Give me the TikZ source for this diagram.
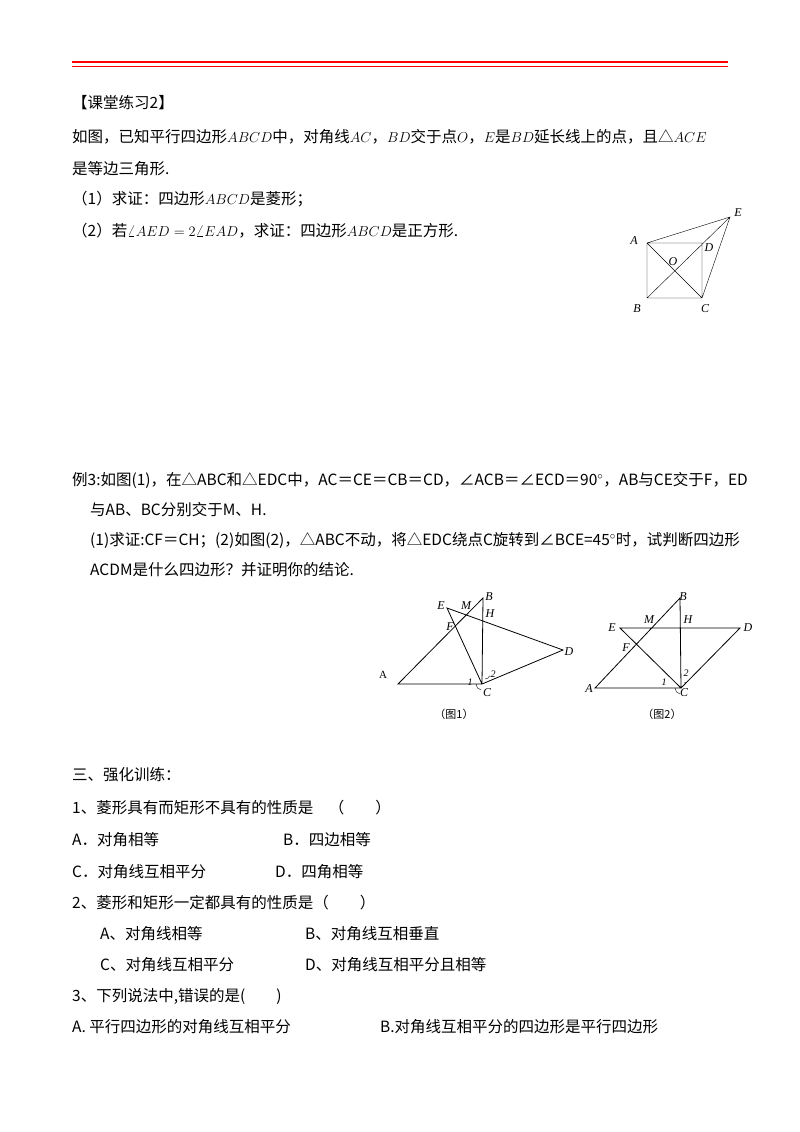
\documentclass[tikz,border=0pt]{standalone}
\usepackage{fontspec}
\setmainfont{Noto Sans CJK SC}
\newfontfamily\lat{Liberation Serif}
\begin{document}
\begin{tikzpicture}[x=1pt,y=-1pt,
 t/.style={anchor=base west,inner sep=0pt,font=\fontsize{15.5}{17}\selectfont},
 lb/.style={inner sep=0pt,font=\fontsize{12}{13}\selectfont\lat\itshape},
 sm/.style={inner sep=0pt,font=\fontsize{10}{11}\selectfont\lat\itshape},
 captxt/.style={inner sep=0pt,font=\fontsize{11}{12}\selectfont},
 ln/.style={line width=0.8pt}]
\useasboundingbox (0,0) rectangle (800,1132);
\draw[red,line width=2pt] (72,62) -- (728,62);
\draw[red,line width=0.7pt] (72,66.5) -- (728,66.5);
\node[t] (t1) at (72,108) {【课堂练习2】};
\node[t] (t2) at (72,142) {如图，已知平行四边形$ABCD$中，对角线$AC$，$BD$交于点$O$，$E$是$BD$延长线上的点，且△$ACE$};
\node[t] (t3) at (72,174) {是等边三角形.};
\node[t] (t4) at (72,204) {（1）求证：四边形$ABCD$是菱形；};
\node[t] (t5) at (72,236) {（2）若$\angle AED=2\angle EAD$，求证：四边形$ABCD$是正方形.};
% figure 1
\coordinate (A) at (647,243); \coordinate (B) at (647,298);
\coordinate (C) at (702,298); \coordinate (D) at (702,243); \coordinate (E) at (730,217);
\draw (A)--(B)--(C)--(D)--cycle (A)--(C) (B)--(E) (A)--(E)--(C);
\node[lb] (lA) at (634,241) {A}; \node[lb] (lB) at (637,309) {B};
\node[lb] (lC) at (705,309) {C}; \node[lb] (lD) at (709,248) {D};
\node[lb] (lE) at (738,213) {E}; \node[lb] (lO) at (673,262) {O};
% example 3
\node[t] (e1) at (72,485) {例3:如图(1)，在△ABC和△EDC中，AC＝CE＝CB＝CD，∠ACB＝∠ECD＝90$^{\circ}$，AB与CE交于F，ED};
\node[t] (e2) at (90,515) {与AB、BC分别交于M、H.};
\node[t] (e3) at (90,545) {(1)求证:CF＝CH；(2)如图(2)，△ABC不动，将△EDC绕点C旋转到∠BCE=45$^{\circ}$时，试判断四边形};
\node[t] (e4) at (90,575) {ACDM是什么四边形？并证明你的结论.};
% fig (1)
\coordinate (a1) at (398,684); \coordinate (c1) at (482,684); \coordinate (b1) at (483,598);
\coordinate (ee1) at (447,608); \coordinate (d1) at (563,650);
\draw[ln] (a1)--(c1)--(b1)--cycle (c1)--(ee1)--(d1)--cycle;
\draw (c1)+(-6,0) arc (180:100:6);
\draw (c1)+(3,-5) arc (90:20:5);
\node[captxt] (l1A) at (383,675) {\lat A};
\node[lb] (l1E) at (441,606) {E}; \node[lb] (l1M) at (466,606) {M};
\node[lb] (l1B) at (489,597) {B}; \node[lb] (l1H) at (490,614) {H};
\node[lb] (l1F) at (450,627) {F}; \node[lb] (l1D) at (569,652) {D};
\node[sm] (l11) at (470,682) {1}; \node[sm] (l12) at (493,674) {2};
\node[lb] (l1C) at (487,693) {C};
\node[captxt] (cap1) at (454,714) {（图1）};
% fig (2)
\coordinate (a2) at (595,688); \coordinate (c2) at (681,688); \coordinate (b2) at (680,598);
\coordinate (ee2) at (620,628); \coordinate (d2) at (740,628);
\draw[ln] (a2)--(c2)--(b2)--cycle (c2)--(ee2)--(d2)--cycle;
\draw (c2)+(-6,0) arc (180:100:6);
\draw (c2)+(3,-5) arc (90:30:5);
\node[lb] (l2E) at (612,628) {E}; \node[lb] (l2M) at (649,620) {M};
\node[lb] (l2H) at (688,620) {H}; \node[lb] (l2B) at (683,597) {B};
\node[lb] (l2D) at (748,628) {D}; \node[lb] (l2F) at (626,648) {F};
\node[lb] (l2A) at (589,689) {A};
\node[sm] (l21) at (664,682) {1}; \node[sm] (l22) at (686,673) {2};
\node[lb] (l2C) at (684,693) {C};
\node[captxt] (cap2) at (662,714) {（图2）};
% section 3
\node[t] (s0) at (72,780) {三、强化训练：};
\node[t] (s1) at (72,813) {1、菱形具有而矩形不具有的性质是\quad（\qquad）};
\node[t] (s2) at (72,845) {A．对角相等};
\node[t] (s3) at (283,845) {B．四边相等};
\node[t] (s4) at (72,877) {C．对角线互相平分};
\node[t] (s5) at (275,877) {D．四角相等};
\node[t] (s6) at (72,908) {2、菱形和矩形一定都具有的性质是（\qquad）};
\node[t] (s7) at (100,939) {A、对角线相等};
\node[t] (s8) at (305,939) {B、对角线互相垂直};
\node[t] (s9) at (100,970) {C、对角线互相平分};
\node[t] (s10) at (305,970) {D、对角线互相平分且相等};
\node[t] (s11) at (72,1001) {3、下列说法中,错误的是(\qquad)};
\node[t] (s12) at (72,1032) {A. 平行四边形的对角线互相平分};
\node[t] (s13) at (380,1032) {B.对角线互相平分的四边形是平行四边形};
\end{tikzpicture}
\end{document}
